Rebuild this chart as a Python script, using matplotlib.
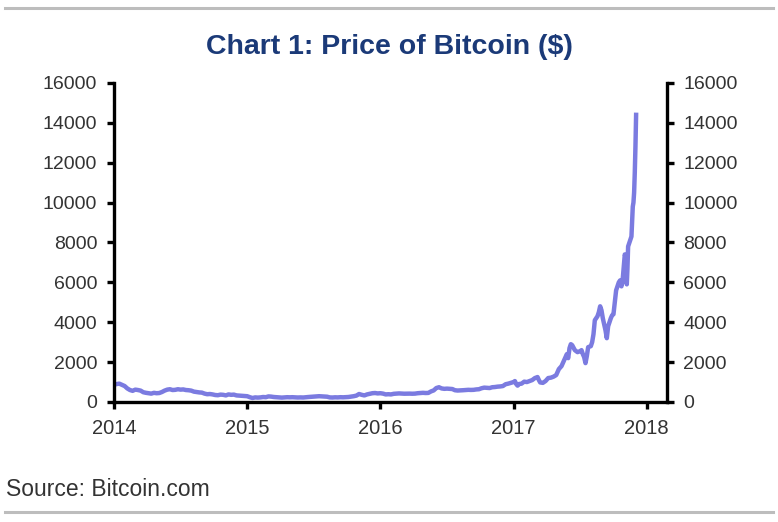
import matplotlib
matplotlib.use('Agg')
import matplotlib.pyplot as plt
from matplotlib.lines import Line2D

# ─── Data (decimal year, BTC price in $) ───
years = [
    2014.00, 2014.02, 2014.04, 2014.06, 2014.08, 2014.10, 2014.12, 2014.14, 2014.16, 2014.18,
    2014.20, 2014.22, 2014.24, 2014.26, 2014.28, 2014.30, 2014.32, 2014.34, 2014.36, 2014.38,
    2014.40, 2014.42, 2014.44, 2014.46, 2014.48, 2014.50, 2014.52, 2014.54, 2014.56, 2014.58,
    2014.60, 2014.62, 2014.64, 2014.66, 2014.68, 2014.70, 2014.72, 2014.74, 2014.76, 2014.78,
    2014.80, 2014.82, 2014.84, 2014.86, 2014.88, 2014.90, 2014.92, 2014.94, 2014.96, 2014.98,
    2015.00, 2015.02, 2015.04, 2015.06, 2015.08, 2015.10, 2015.12, 2015.14, 2015.16, 2015.18,
    2015.20, 2015.22, 2015.24, 2015.26, 2015.28, 2015.30, 2015.32, 2015.34, 2015.36, 2015.38,
    2015.40, 2015.42, 2015.44, 2015.46, 2015.48, 2015.50, 2015.52, 2015.54, 2015.56, 2015.58,
    2015.60, 2015.62, 2015.64, 2015.66, 2015.68, 2015.70, 2015.72, 2015.74, 2015.76, 2015.78,
    2015.80, 2015.82, 2015.84, 2015.86, 2015.88, 2015.90, 2015.92, 2015.94, 2015.96, 2015.98,
    2016.00, 2016.02, 2016.04, 2016.06, 2016.08, 2016.10, 2016.12, 2016.14, 2016.16, 2016.18,
    2016.20, 2016.22, 2016.24, 2016.26, 2016.28, 2016.30, 2016.32, 2016.34, 2016.36, 2016.38,
    2016.40, 2016.42, 2016.44, 2016.46, 2016.48, 2016.50, 2016.52, 2016.54, 2016.56, 2016.58,
    2016.60, 2016.62, 2016.64, 2016.66, 2016.68, 2016.70, 2016.72, 2016.74, 2016.76, 2016.78,
    2016.80, 2016.82, 2016.84, 2016.86, 2016.88, 2016.90, 2016.92, 2016.94, 2016.96, 2016.98,
    2017.00, 2017.01, 2017.02, 2017.03, 2017.04, 2017.06, 2017.08, 2017.10, 2017.12, 2017.14,
    2017.16, 2017.18, 2017.19, 2017.20, 2017.22, 2017.24, 2017.26, 2017.28, 2017.30, 2017.32,
    2017.34, 2017.36, 2017.38, 2017.40, 2017.41, 2017.42, 2017.43, 2017.44, 2017.46, 2017.48,
    2017.50, 2017.51, 2017.52, 2017.53, 2017.54, 2017.55, 2017.56, 2017.58, 2017.59, 2017.60,
    2017.61, 2017.62, 2017.63, 2017.64, 2017.65, 2017.66, 2017.67, 2017.68, 2017.69, 2017.70,
    2017.71, 2017.72, 2017.73, 2017.74, 2017.75, 2017.76, 2017.77, 2017.78, 2017.79, 2017.80,
    2017.81, 2017.82, 2017.83, 2017.835, 2017.84, 2017.845, 2017.85, 2017.855, 2017.86, 2017.87,
    2017.88, 2017.885, 2017.89, 2017.895, 2017.90, 2017.905, 2017.91, 2017.915, 2017.92,
]
prices = [
    870, 900, 920, 860, 800, 680, 600, 560, 620, 600,
    570, 490, 460, 440, 420, 460, 440, 450, 500, 570,
    620, 640, 600, 610, 640, 620, 630, 600, 590, 570,
    520, 500, 480, 470, 420, 390, 400, 380, 350, 340,
    370, 360, 330, 380, 360, 370, 330, 320, 310, 300,
    290, 240, 200, 230, 220, 230, 250, 240, 280, 270,
    250, 240, 230, 220, 230, 240, 235, 240, 230, 225,
    230, 225, 240, 250, 260, 270, 280, 290, 280, 270,
    265, 230, 225, 235, 230, 240, 235, 240, 250, 270,
    290, 320, 400, 360, 330, 380, 410, 440, 450, 430,
    440, 420, 380, 390, 380, 410, 420, 430, 420, 415,
    420, 420, 415, 420, 440, 450, 460, 450, 455, 530,
    580, 700, 740, 680, 660, 670, 660, 650, 590, 575,
    580, 590, 600, 610, 605, 610, 630, 640, 690, 720,
    710, 700, 740, 750, 770, 780, 800, 890, 920, 960,
    1000, 1050, 900, 820, 900, 920, 1020, 1000, 1050, 1100,
    1200, 1250, 1100, 980, 960, 1050, 1200, 1220, 1270, 1350,
    1650, 1800, 2100, 2400, 2200, 2700, 2900, 2850, 2600, 2500,
    2550, 2600, 2400, 2250, 1950, 2300, 2750, 2800, 3000, 3400,
    4100, 4200, 4300, 4500, 4800, 4600, 4200, 3900, 3600, 3200,
    3800, 4000, 4200, 4350, 4400, 5000, 5600, 5800, 6000, 6100,
    5800, 6200, 7000, 7400, 7300, 6200, 5900, 6700, 7800, 8000,
    8200, 8300, 9000, 9800, 10000, 10500, 11500, 12800, 14400,
]
x_ticks = [2014, 2015, 2016, 2017, 2018]
y_ticks = [0, 2000, 4000, 6000, 8000, 10000, 12000, 14000, 16000]

title = 'Chart 1: Price of Bitcoin ($)'
source = 'Source: Bitcoin.com'
font = 'Liberation Sans'

fig = plt.figure(figsize=(7.78, 5.22), dpi=100)
ax = fig.add_axes([0.1465, 0.2299, 0.7105, 0.6112])

ax.plot(years, prices, color='#7b7be0', linewidth=3.2, solid_joinstyle='round')

ax.set_xlim(2014, 2018.15)
ax.set_ylim(0, 16000)
ax.set_xticks(x_ticks)
ax.set_xticklabels([str(y) for y in x_ticks])
ax.set_yticks(y_ticks)

ax.spines['top'].set_visible(False)
for s in ['left', 'right', 'bottom']:
    ax.spines[s].set_linewidth(2.4)
    ax.spines[s].set_color('black')

ax.tick_params(axis='both', which='both', direction='out', length=5, width=2.4,
               labelcolor='#333333', colors='black')
ax.tick_params(axis='x', pad=7, labelsize=14.5)
ax.tick_params(axis='y', pad=7, labelsize=14, left=True, right=True,
               labelleft=True, labelright=True)
for lbl in ax.get_xticklabels() + ax.get_yticklabels():
    lbl.set_fontfamily(font)
for t in ax.yaxis.get_major_ticks():
    t.label2.set_fontfamily(font)
    t.label2.set_fontsize(14)
    t.label2.set_color('#333333')

fig.text(0.5, 0.91, title, ha='center', va='center', fontsize=20.5,
         fontweight='bold', color='#1b3a78', family=font)
fig.text(0.008, 0.063, source, ha='left', va='center', fontsize=16.5,
         color='#333333', family=font)

fig.add_artist(Line2D([0.007, 0.993], [0.985, 0.985], color='#bdbdbd', linewidth=2.2))
fig.add_artist(Line2D([0.007, 0.993], [0.02, 0.02], color='#bdbdbd', linewidth=2.2))

fig.savefig('out.png', dpi=100)
